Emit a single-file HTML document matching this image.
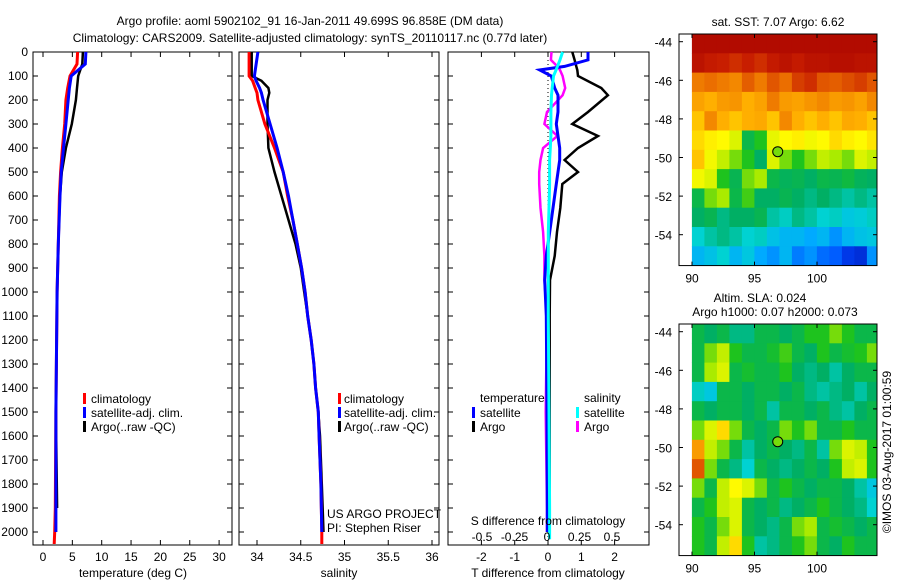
<!DOCTYPE html>
<html><head><meta charset="utf-8"><style>
body{margin:0;background:#fff}
svg{display:block;font-family:"Liberation Sans",sans-serif;font-size:12px}
</style></head><body>
<svg id="c" width="900" height="580" viewBox="0 0 900 580">
<text x="310" y="25" text-anchor="middle">Argo profile: aoml 5902102_91 16-Jan-2011 49.699S 96.858E (DM data)</text>
<text x="310" y="42" text-anchor="middle">Climatology: CARS2009. Satellite-adjusted climatology: synTS_20110117.nc (0.77d later)</text>
<g id="g"></g>
</svg>
<script>
// ---- data ----
const depthT = [0,50,100,150,200,300,400,500,600,800,1000,1500,1900,2000,2050];
const tempClim = [5.9,5.8,4.6,4.2,3.9,3.7,3.3,3.0,2.8,2.6,2.4,2.2,2.1,2.0,1.9];
const tempSat  = [7.3,7.2,4.8,4.5,4.3,3.9,3.5,3.1,2.9,2.6,2.4,2.2,2.2,2.2];
const tempArgo = [6.8,6.7,6.0,5.8,5.6,4.9,3.9,3.2,2.9,2.6,2.4,2.2,2.4];
const depthS = [0,100,120,150,170,200,300,400,500,600,700,800,900,1000,1100,1200,1300,1400,1500,1600,1800,2000,2050];
const salClim = [33.91,33.91,33.95,33.98,34.0,34.01,34.09,34.2,34.3,34.35,34.41,34.46,34.51,34.55,34.58,34.62,34.65,34.67,34.7,34.71,34.73,34.74,34.74];
const salSat  = [34.01,33.97,33.99,34.03,34.05,34.07,34.15,34.23,34.3,34.36,34.41,34.46,34.51,34.55,34.58,34.62,34.65,34.67,34.7,34.71,34.73,34.74];
const salArgo = [33.94,33.94,34.05,34.13,34.14,34.12,34.12,34.13,34.2,34.28,34.36,34.44,34.5,34.54,34.58,34.62,34.65,34.67,34.7,34.72,34.74,34.76];
const depthD = [0,33,60,75,100,150,180,250,300,350,400,450,500,550,650,750,850,950,1100,1500,1900,2000,2030];
const dTArgo = [0.73,0.8,0.85,0.88,0.9,1.6,1.8,1.2,0.73,1.5,0.9,0.5,0.9,0.43,0.37,0.27,0.2,0.06,0.05,0.05,0.05];
const dTSat  = [1.2,1.2,0.5,-0.25,0.1,0.2,0.3,0.3,0.25,0.3,0.35,0.35,0.3,0.25,0.15,0.05,-0.05,-0.1,-0.05,-0.03,-0.02,-0.02];
const dSArgo = [0.035,0.03,0.08,0.1,0.12,0.14,0.12,0.0,-0.02,0.08,-0.03,-0.05,-0.06,-0.06,-0.05,-0.03,-0.02,-0.02,0.0,-0.01,0.0,0.0];
const dSSat  = [0.12,0.1,0.08,0.07,0.05,0.04,0.035,0.03,0.03,0.03,0.025,0.02,0.02,0.02,0.015,0.01,0.01,0.01,0.01,0.015,0.02,0.02,0.02];
const depthTicks = [0,100,200,300,400,500,600,700,800,900,1000,1100,1200,1300,1400,1500,1600,1700,1800,1900,2000];
const tempTicks = [0,5,10,15,20,25,30];
const salTicks = [34,34.5,35,35.5,36];
const salTickLabels = ["34","34.5","35","35.5","36"];
const dTTicks = [-2,-1,0,1,2];
const dSTicks = [-0.5,-0.25,0,0.25,0.5];
const latTicks = [-44,-46,-48,-50,-52,-54];
const lonTicks = [90,95,100];
const sstGrid = [
[0.97,0.97,0.97,0.97,0.97,0.97,0.97,0.97,0.97,0.97,0.97,0.97,0.97,0.97,0.97],
[0.95,0.93,0.92,0.9,0.92,0.9,0.93,0.95,0.93,0.95,0.95,0.96,0.96,0.95,0.95],
[0.8,0.82,0.8,0.78,0.84,0.8,0.85,0.82,0.88,0.9,0.85,0.84,0.86,0.88,0.85],
[0.74,0.72,0.75,0.76,0.72,0.74,0.8,0.75,0.74,0.76,0.78,0.75,0.76,0.74,0.78],
[0.7,0.78,0.72,0.7,0.72,0.73,0.7,0.78,0.72,0.7,0.72,0.7,0.73,0.72,0.7],
[0.68,0.66,0.65,0.62,0.45,0.5,0.63,0.65,0.66,0.64,0.65,0.68,0.66,0.65,0.67],
[0.7,0.64,0.6,0.55,0.5,0.42,0.62,0.55,0.5,0.55,0.6,0.58,0.55,0.62,0.6],
[0.64,0.62,0.5,0.44,0.55,0.58,0.45,0.43,0.44,0.42,0.45,0.44,0.46,0.43,0.42],
[0.45,0.55,0.58,0.45,0.52,0.42,0.42,0.44,0.42,0.4,0.42,0.4,0.38,0.4,0.38],
[0.42,0.44,0.4,0.42,0.42,0.44,0.38,0.36,0.4,0.38,0.35,0.36,0.33,0.34,0.36],
[0.35,0.38,0.4,0.38,0.35,0.36,0.32,0.3,0.3,0.28,0.3,0.25,0.3,0.32,0.33],
[0.3,0.32,0.35,0.3,0.33,0.28,0.25,0.3,0.22,0.25,0.2,0.18,0.12,0.1,0.25]];
const slaGrid = [
[0.45,0.42,0.45,0.4,0.4,0.45,0.45,0.42,0.45,0.5,0.5,0.55,0.5,0.45,0.45],
[0.45,0.55,0.6,0.5,0.45,0.45,0.48,0.52,0.45,0.42,0.5,0.45,0.48,0.5,0.55],
[0.45,0.58,0.62,0.45,0.48,0.45,0.45,0.5,0.42,0.4,0.42,0.38,0.42,0.45,0.45],
[0.36,0.33,0.45,0.45,0.42,0.45,0.45,0.42,0.45,0.4,0.38,0.4,0.42,0.38,0.42],
[0.45,0.42,0.45,0.45,0.42,0.45,0.38,0.45,0.45,0.42,0.45,0.4,0.38,0.42,0.45],
[0.55,0.62,0.68,0.55,0.45,0.42,0.45,0.55,0.5,0.55,0.45,0.45,0.5,0.45,0.45],
[0.75,0.6,0.55,0.45,0.38,0.42,0.45,0.42,0.4,0.45,0.38,0.55,0.62,0.6,0.5],
[0.85,0.55,0.45,0.4,0.35,0.45,0.42,0.4,0.42,0.45,0.42,0.5,0.6,0.62,0.5],
[0.55,0.45,0.6,0.65,0.62,0.55,0.45,0.5,0.45,0.42,0.45,0.45,0.42,0.38,0.33],
[0.45,0.5,0.6,0.62,0.45,0.42,0.45,0.4,0.42,0.45,0.5,0.45,0.42,0.4,0.35],
[0.5,0.45,0.55,0.62,0.45,0.42,0.4,0.45,0.55,0.58,0.45,0.48,0.45,0.42,0.45],
[0.5,0.45,0.6,0.68,0.5,0.38,0.4,0.45,0.5,0.55,0.45,0.42,0.5,0.45,0.45]];
const floatLon = 96.858, floatLat = -49.699;

// ---- helpers ----
const NS="http://www.w3.org/2000/svg", G=document.getElementById('g');
function mk(tag,at,parent){const e=document.createElementNS(NS,tag);for(const k in at)e.setAttribute(k,at[k]);(parent||G).appendChild(e);return e;}
function txt(x,y,s,anchor){const e=mk('text',{x:x,y:y,'text-anchor':anchor||'start'});e.textContent=s;return e;}
const yD=d=>52+d*0.24;
const Y0=52,Y1=545;
function frame(x0,x1,name){const r=mk('rect',{x:x0,y:Y0,width:x1-x0,height:Y1-Y0,fill:'none',stroke:'#000','stroke-width':1});

}
function line(xs,ds,sx,col,w,name){let p='';for(let i=0;i<xs.length;i++){p+=(i?'L':'M')+sx(xs[i]).toFixed(1)+','+yD(ds[i]).toFixed(1);}
const e=mk('path',{d:p,fill:'none',stroke:col,'stroke-width':w,'stroke-linejoin':'miter'});

}
function xticks(vals,labels,sx){vals.forEach((v,i)=>{const x=sx(v);mk('line',{x1:x,x2:x,y1:Y1,y2:Y1-5,stroke:'#000'});mk('line',{x1:x,x2:x,y1:Y0,y2:Y0+5,stroke:'#000'});
const t=txt(x,561,labels[i],'middle');
});}
function yticks(x0,x1,lab){depthTicks.forEach(d=>{const y=yD(d);mk('line',{x1:x0,x2:x0+5,y1:y,y2:y,stroke:'#000'});mk('line',{x1:x1,x2:x1-5,y1:y,y2:y,stroke:'#000'});
if(lab){const t=txt(28,y+4,String(d),'end');
}});}
function legMark(x,y,col){mk('rect',{x:x,y:y-6,width:3,height:11,fill:col});}

// ---- panel 1: temperature ----
const sxT=t=>43+t*5.87;
frame(33,232,'temperature-axes');yticks(33,232,true);
xticks(tempTicks,tempTicks.map(String),sxT);
line(tempArgo,depthT.slice(0,tempArgo.length),sxT,'#000',2.5,'temp-argo-line');
line(tempClim,depthT,sxT,'#f00',3,'temp-climatology-line');
line(tempSat,depthT.slice(0,tempSat.length),sxT,'#00f',3,'temp-satellite-line');
let t=txt(133,577,'temperature (deg C)','middle');
[['climatology','#f00'],['satellite-adj. clim.','#00f'],['Argo(..raw -QC)','#000']].forEach((l,i)=>{legMark(83,399+i*14,l[1]);const e=txt(91,403+i*14,l[0]);});

// ---- panel 2: salinity ----
const sxS=s=>257+(s-34)*87.5;
frame(239,439,'salinity-axes');yticks(239,439,false);
xticks(salTicks,salTickLabels,sxS);
line(salArgo,depthS.slice(0,salArgo.length),sxS,'#000',2.5,'sal-argo-line');
line(salClim,depthS,sxS,'#f00',3,'sal-climatology-line');
line(salSat,depthS.slice(0,salSat.length),sxS,'#00f',3,'sal-satellite-line');
t=txt(339,577,'salinity','middle');
[['climatology','#f00'],['satellite-adj. clim.','#00f'],['Argo(..raw -QC)','#000']].forEach((l,i)=>{legMark(338,399+i*14,l[1]);const e=txt(344,403+i*14,l[0]);});
t=txt(327,518,'US ARGO PROJECT');
t=txt(327,532,'PI: Stephen Riser');

// ---- panel 3: differences ----
const sxdT=v=>548+v*33.3, sxdS=v=>547+v*130;
frame(448,649,'difference-axes');yticks(448,649,false);
xticks(dTTicks,dTTicks.map(String),sxdT);
mk('line',{x1:548,x2:548,y1:Y0,y2:Y1,stroke:'#000','stroke-dasharray':'1,3'});
line(dTArgo,depthD.slice(0,dTArgo.length),sxdT,'#000',2.5,'dT-argo-line');
line(dSArgo,depthD.slice(0,dSArgo.length),sxdS,'#f0f',2.5,'dS-argo-line');
line(dTSat,depthD.slice(0,dTSat.length),sxdT,'#00f',3,'dT-satellite-line');
line(dSSat,depthD.slice(0,dSSat.length),sxdS,'#0ff',3,'dS-satellite-line');
dSTicks.forEach(v=>{const e=txt(sxdS(v),541,String(v),'middle');});
t=txt(548,525,'S difference from climatology','middle');
t=txt(548,577,'T difference from climatology','middle');
txt(480,402,'temperature');txt(584,402,'salinity');
[['satellite','#00f',472],['Argo','#000',472]].forEach((l,i)=>{legMark(l[2],413+i*14,l[1]);const e=txt(l[2]+8,417+i*14,l[0]);});
[['satellite','#0ff',576],['Argo','#f0f',576]].forEach((l,i)=>{legMark(l[2],413+i*14,l[1]);const e=txt(l[2]+8,417+i*14,l[0]);});

// ---- maps ----
const cmStops=[[0,[0,0,140]],[0.15,[0,70,255]],[0.28,[0,170,255]],[0.35,[0,210,210]],[0.42,[0,175,100]],[0.5,[30,195,30]],[0.58,[170,235,0]],[0.65,[255,250,0]],[0.72,[255,175,0]],[0.82,[235,110,0]],[0.92,[200,30,0]],[1,[165,0,0]]];
function cmap(v){v=Math.max(0,Math.min(1,v));for(let i=1;i<cmStops.length;i++){if(v<=cmStops[i][0]){const a=cmStops[i-1],b=cmStops[i],f=(v-a[0])/(b[0]-a[0]);return 'rgb('+a[1].map((c,k)=>Math.round(c+(b[1][k]-c)*f)).join(',')+')';}}return 'rgb(165,0,0)';}
function map(grid,top,name){
 const sx=lon=>692+(lon-90)*12.5, sy=lat=>top+(-44-lat)*19.3+7.7;
 const x0=679,x1=877,yt=top,yb=sy(-55.6);
 const gg=mk('g',{});
 
 grid.forEach((row,r)=>row.forEach((v,c)=>{const xa=sx(90+c)-0.1,xb=Math.min(sx(91+c),x1);if(xa>=x1)return;
  mk('rect',{x:xa.toFixed(1),y:sy(-43.6-r).toFixed(1),width:(xb-xa+0.4).toFixed(1),height:19.7,fill:cmap(v)},gg);}));
 mk('rect',{x:x0,y:yt,width:x1-x0,height:yb-yt,fill:'none',stroke:'#000'});
 latTicks.forEach(l=>{const y=sy(l);mk('line',{x1:x0,x2:x0+4,y1:y,y2:y,stroke:'#000'});mk('line',{x1:x1,x2:x1-4,y1:y,y2:y,stroke:'#000'});const e=txt(672,y+5,String(l),'end');});
 lonTicks.forEach(l=>{const x=sx(l);mk('line',{x1:x,x2:x,y1:yb,y2:yb-4,stroke:'#000'});mk('line',{x1:x,x2:x,y1:yt,y2:yt+4,stroke:'#000'});const e=txt(x,yb+17,String(l),'middle');});
 const c=mk('circle',{cx:sx(floatLon),cy:sy(floatLat),r:5,fill:cmap(0.55),stroke:'#000','stroke-width':1});
 
 
}
map(sstGrid,34,'sst-map');
map(slaGrid,324,'sla-map');
t=txt(778,26,'sat. SST: 7.07 Argo: 6.62','middle');
t=txt(760,302,'Altim. SLA: 0.024','middle');
t=txt(775,316,'Argo h1000: 0.07 h2000: 0.073','middle');
t=txt(0,0,'©IMOS 03-Aug-2017 01:00:59','middle');t.setAttribute('transform','translate(891,452) rotate(-90)');

</script>
</body></html>
